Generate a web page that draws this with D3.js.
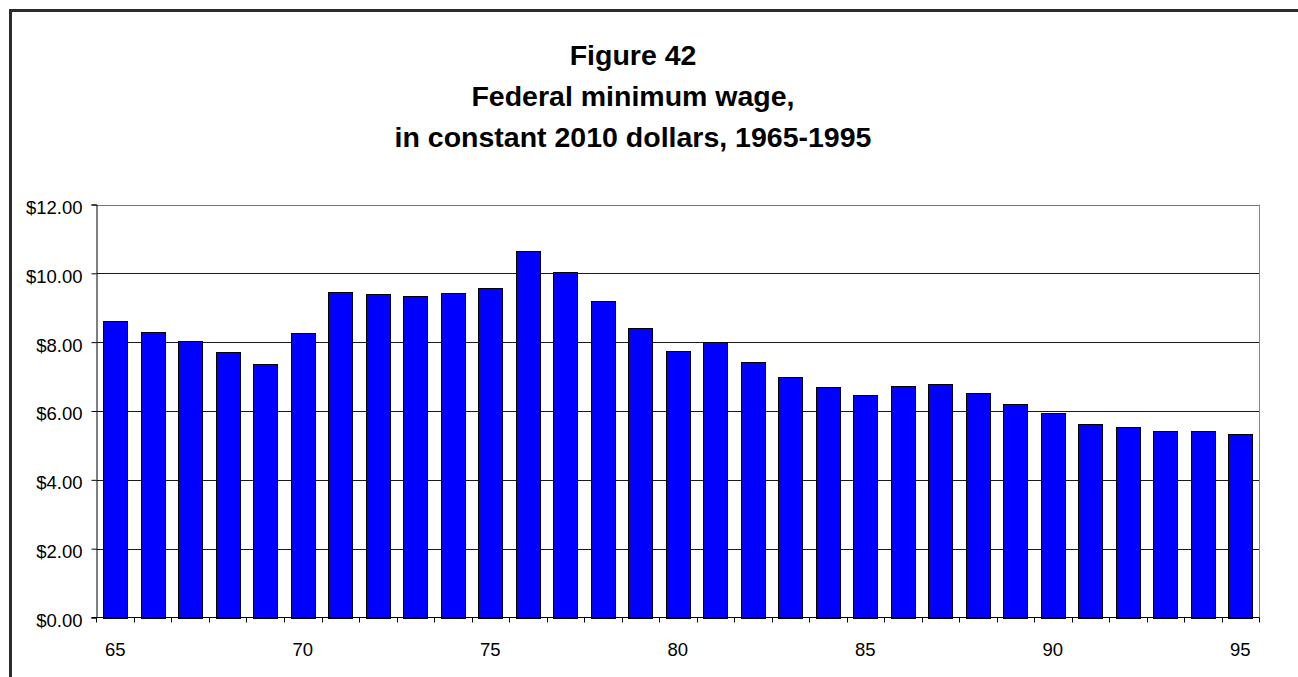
<!DOCTYPE html>
<html>
<head>
<meta charset="utf-8">
<script src="https://cdn.jsdelivr.net/npm/d3@7"></script>
<style>
  html, body { margin: 0; padding: 0; background: #fff; }
  svg { display: block; }
  text { font-family: "Liberation Sans", Arial, sans-serif; fill: #000; }
</style>
</head>
<body>
<svg id="chart" width="1298" height="677"></svg>
<script>
// Federal minimum wage in constant 2010 dollars, by year (two-digit labels)
const years = d3.range(1965, 1996);
const wages = [
  8.61, 8.30, 8.02, 7.71, 7.38, 8.27, 9.45, 9.41, 9.34, 9.44,
  9.56, 10.65, 10.03, 9.20, 8.42, 7.74, 8.01, 7.41, 7.00, 6.71,
  6.46, 6.72, 6.79, 6.53, 6.21, 5.93, 5.62, 5.54, 5.43, 5.43, 5.32
];
const yTicks = [0, 2, 4, 6, 8, 10, 12];
const xLabelYears = [1965, 1970, 1975, 1980, 1985, 1990, 1995];
const titleLines = [
  "Figure 42",
  "Federal minimum wage,",
  "in constant 2010 dollars, 1965-1995"
];

const data = years.map((yr, i) => ({ year: yr, value: wages[i] }));

const svg = d3.select("#chart");
const W = 1298, H = 677;
const plot = { left: 96.5, right: 1259, top: 204.5, bottom: 617.5 };

// outer chart frame (left and top edges)
svg.append("path")
  .attr("d", `M10.5,${H} V10.5 H${W}`)
  .attr("fill", "none")
  .attr("stroke", "#2b2b2b")
  .attr("stroke-width", 3);

// title
svg.append("g")
  .selectAll("text")
  .data(titleLines)
  .join("text")
  .attr("x", 633)
  .attr("y", (d, i) => 65 + i * 41)
  .attr("text-anchor", "middle")
  .attr("font-size", "28.5px")
  .attr("font-weight", "bold")
  .text(d => d);

const x = d3.scaleBand()
  .domain(years)
  .range([plot.left, plot.right])
  .paddingInner(0.373)
  .paddingOuter(0.1865);

const y = d3.scaleLinear()
  .domain([0, 12])
  .range([plot.bottom, plot.top]);

// horizontal gridlines
svg.append("g")
  .selectAll("line")
  .data(yTicks.filter(d => d > 0))
  .join("line")
  .attr("x1", plot.left)
  .attr("x2", plot.right)
  .attr("y1", d => Math.round(y(d)) + 0.5)
  .attr("y2", d => Math.round(y(d)) + 0.5)
  .attr("stroke", d => d === 12 ? "#777" : "#1a1a1a")
  .attr("stroke-width", 1);

// right edge of plot area
svg.append("line")
  .attr("x1", plot.right + 0.5).attr("x2", plot.right + 0.5)
  .attr("y1", plot.top).attr("y2", plot.bottom)
  .attr("stroke", "#888");

// bars
svg.append("g")
  .selectAll("rect")
  .data(data)
  .join("rect")
  .attr("x", d => Math.round(x(d.year)) + 0.5)
  .attr("width", Math.round(x.bandwidth()))
  .attr("y", d => Math.round(y(d.value)) + 0.5)
  .attr("height", d => Math.round(y(0)) - Math.round(y(d.value)))
  .attr("fill", "#0000ff")
  .attr("stroke", "#000")
  .attr("stroke-width", 1);

// y axis
const yAxis = d3.axisLeft(y)
  .tickValues(yTicks)
  .tickSize(5)
  .tickPadding(9)
  .tickFormat(d => "$" + d3.format(".2f")(d));

const gy = svg.append("g")
  .attr("transform", `translate(${plot.left},0)`)
  .call(yAxis);
gy.select(".domain").attr("stroke", "#000");
gy.selectAll(".tick line").attr("stroke", "#000");
gy.selectAll(".tick text")
  .attr("font-size", "18.5px")
  .attr("font-family", "Liberation Sans, Arial, sans-serif")
  .attr("dy", "0.48em");

// x axis baseline and ticks at category boundaries
const step = x.step();
const boundaries = years.map(yr => x(yr) - step * x.paddingInner() / 2)
  .concat([x(years[years.length - 1]) + x.bandwidth() + step * x.paddingInner() / 2]);

const gx = svg.append("g");
gx.append("line")
  .attr("x1", plot.left - 5).attr("x2", plot.right + 0.5)
  .attr("y1", plot.bottom).attr("y2", plot.bottom)
  .attr("stroke", "#000");
gx.selectAll("line.tk")
  .data(boundaries)
  .join("line")
  .attr("class", "tk")
  .attr("x1", d => Math.round(d) + 0.5)
  .attr("x2", d => Math.round(d) + 0.5)
  .attr("y1", plot.bottom)
  .attr("y2", plot.bottom + 5)
  .attr("stroke", "#000");

const xAxis = d3.axisBottom(x)
  .tickValues(xLabelYears)
  .tickSize(0)
  .tickPadding(25)
  .tickFormat(d => String(d % 100));

const gxl = svg.append("g")
  .attr("transform", `translate(0,${plot.bottom})`)
  .call(xAxis);
gxl.select(".domain").remove();
gxl.selectAll(".tick text")
  .attr("font-size", "18.5px")
  .attr("font-family", "Liberation Sans, Arial, sans-serif");
</script>
</body>
</html>
